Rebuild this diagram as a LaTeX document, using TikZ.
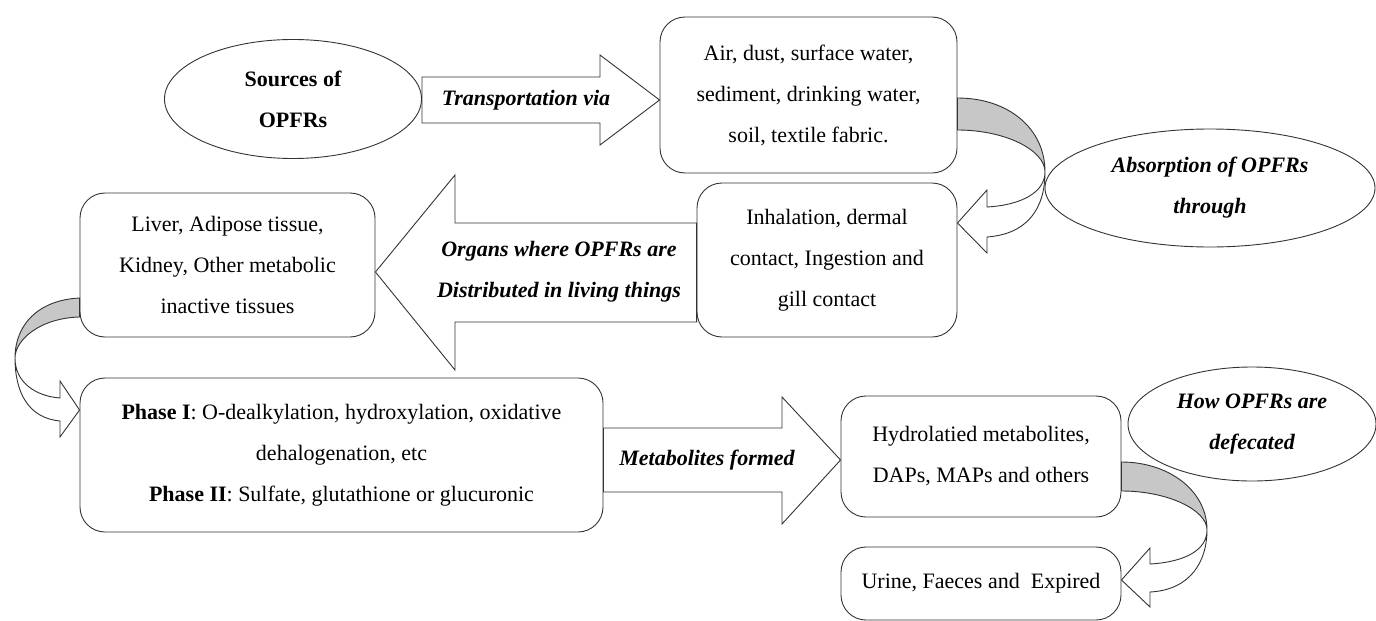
\documentclass[tikz,border=0pt]{standalone}
\usepackage{fontspec}
\setmainfont{Liberation Serif}
\usetikzlibrary{shapes.geometric}

\begin{document}
\begin{tikzpicture}[x=1pt, y=-1pt, line width=0.9pt,
    every node/.style={font=\fontsize{22}{41}\selectfont, align=center},
    box/.style={draw=black!80, rounded corners=25pt},
    oval/.style={draw=black!80, ellipse},
    note/.style={font=\fontsize{22}{41}\selectfont\bfseries\itshape},
    blockarrow/.style={draw=black!80, line join=miter},
    twistback/.style={draw=black!80, fill=black!22},
    twistfront/.style={draw=black!80, fill=white}]
    \useasboundingbox (0,0) rectangle (1376,621);

    % sources and transport
    \node[oval, font=\fontsize{22}{41}\selectfont\bfseries, minimum width=257pt, minimum height=119pt] (src) at (293,99) {Sources of\\OPFRs};
    \node[box, minimum width=297pt, minimum height=156pt] (air) at (808.5,95) {Air, dust, surface water,\\sediment, drinking water,\\soil, textile fabric.};
    \node[oval, note, minimum width=330pt, minimum height=118pt] (absorb) at (1210,188) {Absorption of OPFRs\\through};
    \node[note] (trans) at (526,100) {Transportation via};
    \draw[blockarrow] (src.east |- 0,77) -- (600,77) -- (600,55) -- (air.west |- 0,100) -- (600,145) -- (600,123) -- (src.east |- 0,123) -- cycle;

    % uptake and distribution
    \node[box, minimum width=260pt, minimum height=154pt] (inhal) at (827,260) {Inhalation, dermal\\contact, Ingestion and\\gill contact};
    \node[box, minimum width=295pt, minimum height=144pt] (liver) at (227.5,265) {Liver, Adipose tissue,\\Kidney, Other metabolic\\inactive tissues};
    \node[note] (organs) at (559,272) {Organs where OPFRs are\\Distributed in living things};
    \draw[blockarrow] (inhal.west |- 0,223) -- (455,223) -- (455,175) -- (liver.east |- 0,272) -- (455,370) -- (455,322) -- (inhal.west |- 0,322) -- cycle;

    % metabolism
    \node[box, minimum width=523pt, minimum height=154pt] (phase) at (341.5,455) {\textbf{Phase I}: O-dealkylation, hydroxylation, oxidative\\dehalogenation, etc\\\textbf{Phase II}: Sulfate, glutathione or glucuronic};
    \node[box, minimum width=280pt, minimum height=121pt] (hydro) at (981,456.5) {Hydrolatied metabolites,\\DAPs, MAPs and others};
    \node[oval, note, minimum width=248pt, minimum height=114pt] (how) at (1252,424) {How OPFRs are\\defecated};
    \node[box, minimum width=280pt, minimum height=73pt] (urine) at (981,583.5) {Urine, Faeces and\ \ Expired};
    \node[note] (metab) at (707,460) {Metabolites formed};
    \draw[blockarrow] (phase.east |- 0,428) -- (782,428) -- (782,397) -- (hydro.west |- 0,460) -- (782,524) -- (782,492) -- (phase.east |- 0,492) -- cycle;

    % curved arrows
    \draw[twistback] (air.east |- 0,98) .. controls (1008,98) and (1045,128) .. (1045,172) .. controls (1045,150) and (1005,130) .. (air.east |- 0,130) -- cycle;
    \draw[twistfront] (1045,172) .. controls (1045,192) and (1022,205) .. (987,207) -- (987,190) -- (inhal.east |- 0,223) -- (987,253) -- (987,237) .. controls (1028,234) and (1045,208) .. (1045,172) -- cycle;

    \draw[twistback] (liver.west |- 0,298) .. controls (38,300) and (15,325) .. (15,358) .. controls (15,340) and (40,318) .. (liver.west |- 0,317) -- cycle;
    \draw[twistfront] (15,358) .. controls (15,382) and (35,396) .. (60,398) -- (60,381) -- (phase.west |- 0,410) -- (60,437) -- (60,421) .. controls (28,418) and (15,392) .. (15,358) -- cycle;

    \draw[twistback] (hydro.east |- 0,462) .. controls (1168,462) and (1207,490) .. (1207,530) .. controls (1207,510) and (1168,491) .. (hydro.east |- 0,491) -- cycle;
    \draw[twistfront] (1207,530) .. controls (1207,550) and (1185,562) .. (1150,564) -- (1150,548) -- (urine.east |- 0,580) -- (1150,607) -- (1150,592) .. controls (1190,590) and (1207,562) .. (1207,530) -- cycle;
\end{tikzpicture}
\end{document}
